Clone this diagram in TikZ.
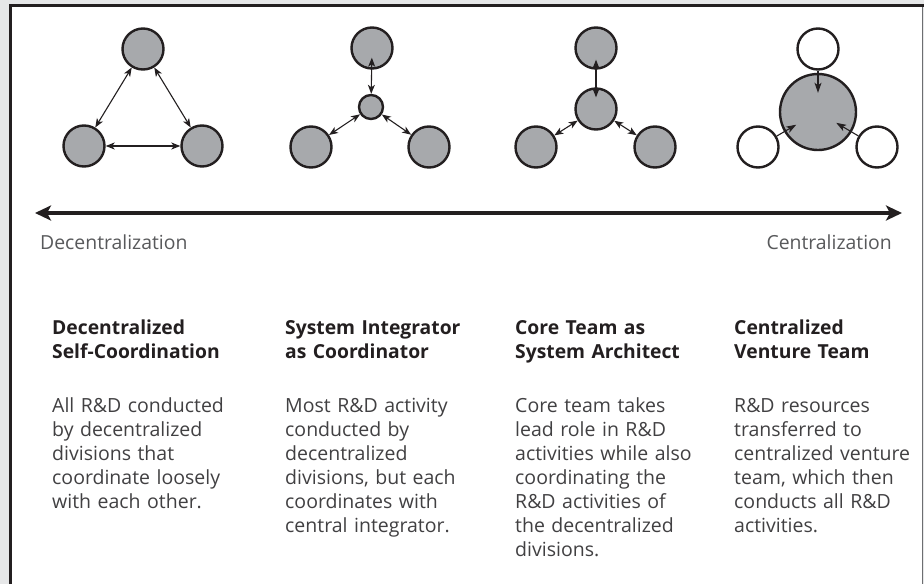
\documentclass[tikz,border=0pt]{standalone}
\usepackage{fontspec}
\setmainfont{Open Sans}
\usetikzlibrary{arrows.meta}
\definecolor{ink}{HTML}{231F20}
\definecolor{cgray}{HTML}{A7A9AC}
\definecolor{bggray}{HTML}{E6E7E8}
\definecolor{framegray}{HTML}{6D6E71}
\definecolor{bodytext}{HTML}{414042}
\definecolor{axistext}{HTML}{58595B}
\tikzset{
  circ/.style={circle, draw=ink, fill=cgray, line width=2.4pt, minimum size=41pt, inner sep=0pt},
  wcirc/.style={circ, fill=white},
  dbl/.style={ink, line width=1.1pt, {Stealth[length=9pt,width=7pt,inset=2.5pt]}-{Stealth[length=9pt,width=7pt,inset=2.5pt]}},
  one/.style={ink, line width=1.1pt, -{Stealth[length=10pt,width=7pt,inset=2.5pt]}},
  axis/.style={ink, line width=3.6pt, {Stealth[length=16pt,width=15pt,inset=4pt]}-{Stealth[length=16pt,width=15pt,inset=4pt]}},
  head/.style={anchor=base west, inner sep=0pt, text width=215pt, align=left, text=ink, font=\fontsize{19.3}{24}\selectfont\bfseries},
  body/.style={anchor=base west, inner sep=0pt, text width=215pt, align=left, text=bodytext, font=\fontsize{19.5}{24}\selectfont},
  axlabel/.style={inner sep=0pt, text=axistext, font=\fontsize{19.4}{24}\selectfont}
}
\begin{document}
\begin{tikzpicture}[x=1pt, y=-1pt]
\useasboundingbox (0,0) rectangle (924,584);
% frame
\fill[bggray] (0,0) rectangle (924,584);
\fill[white] (10.7,5) rectangle (923,584);
\draw[framegray, line width=1.2pt] (922.8,5) -- (922.8,584);
\draw[ink, line width=3pt] (10.7,584) -- (10.7,5) -- (924,5);

% diagram 1
\node[circ] (t1) at (143,49) {};
\node[circ] (l1) at (84,146) {};
\node[circ] (r1) at (202,146) {};
\draw[dbl] (t1) -- (l1);
\draw[dbl] (t1) -- (r1);
\draw[dbl] (l1) -- (r1);

% diagram 2
\node[circ] (t2) at (372,48) {};
\node[circ, minimum size=24pt] (c2) at (371,107) {};
\node[circ] (l2) at (311,147) {};
\node[circ] (r2) at (429,147) {};
\draw[dbl, shorten <=-12pt] (t2) -- (c2);
\draw[dbl] (l2) -- (c2);
\draw[dbl] (r2) -- (c2);

% diagram 3
\node[circ] (t3) at (596,48) {};
\node[circ] (c3) at (596,109) {};
\node[circ] (l3) at (536,147) {};
\node[circ] (r3) at (655,147) {};
\draw[dbl, shorten <=-10pt, shorten >=-10pt] (t3) -- (c3);
\draw[dbl] (l3) -- (c3);
\draw[dbl] (r3) -- (c3);

% diagram 4
\node[circ, minimum size=76pt] (c4) at (818,112) {};
\node[wcirc] (t4) at (818,49) {};
\node[wcirc] (l4) at (758,147) {};
\node[wcirc] (r4) at (877,147) {};
\draw[one, shorten >=-20pt] (t4) -- (c4);
\draw[one, shorten >=-14pt] (l4) -- (c4);
\draw[one, shorten >=-18pt] (r4) -- (c4);

% axis
\coordinate (axl) at (35,213);
\coordinate (axr) at (902,213);
\draw[axis] (axl) -- (axr);
\node[axlabel, anchor=base west] (dec) at (40,249.5) {Decentralization};
\node[axlabel, anchor=base east] (cen) at (892,249.5) {Centralization};

% headings
\node[head] (h1) at (52,334.5) {Decentralized\\Self-Coordination};
\node[head] (h2) at (285,334.5) {System Integrator\\as Coordinator};
\node[head] (h3) at (515,334.5) {Core Team as\\System Architect};
\node[head] (h4) at (734,334.5) {Centralized\\Venture Team};

% bodies
\node[body] (b1) at (52,412.5) {All R\&D conducted\\by decentralized\\divisions that\\coordinate loosely\\with each other.};
\node[body] (b2) at (285,412.5) {Most R\&D activity\\conducted by\\decentralized\\divisions, but each\\coordinates with\\central integrator.};
\node[body] (b3) at (515,412.5) {Core team takes\\lead role in R\&D\\activities while also\\coordinating the\\R\&D activities of\\the decentralized\\divisions.};
\node[body] (b4) at (734,412.5) {R\&D resources\\transferred to\\centralized venture\\team, which then\\conducts all R\&D\\activities.};
\end{tikzpicture}
\end{document}
